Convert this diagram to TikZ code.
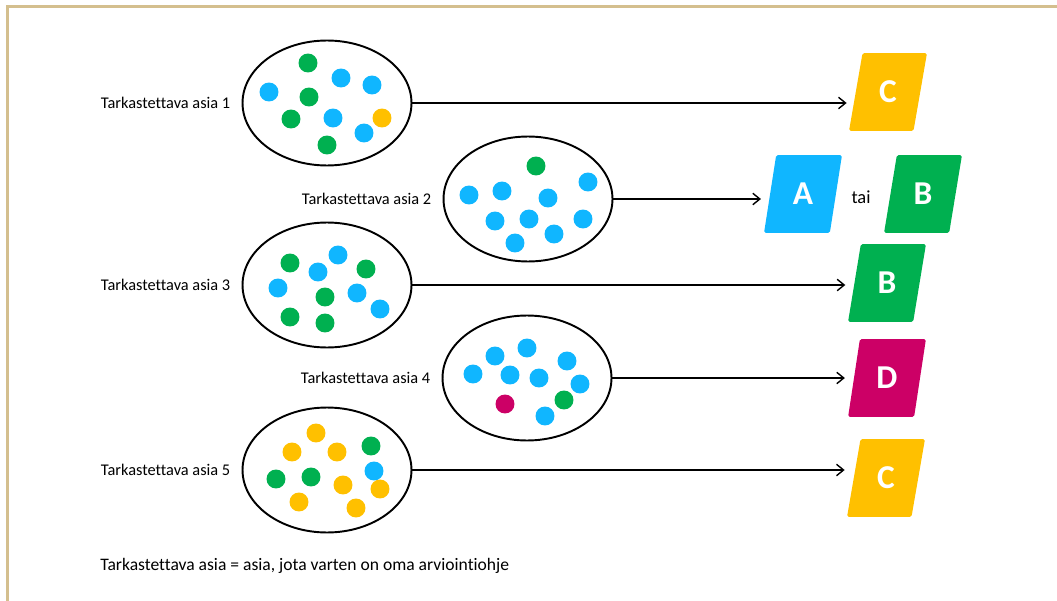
\documentclass[tikz,border=0pt]{standalone}
\usepackage{fontspec}
\setmainfont{Carlito}[Ligatures=NoCommon]
\usetikzlibrary{arrows.meta,shapes.geometric,positioning}

\definecolor{rimtan}{RGB}{212,191,142}
\definecolor{dotblue}{RGB}{16,182,255}
\definecolor{dotgreen}{RGB}{0,176,80}
\definecolor{dotyellow}{RGB}{255,192,0}
\definecolor{dotmagenta}{RGB}{204,0,102}

\begin{document}
\begin{tikzpicture}[x=0.02cm,y=-0.02cm,node distance=0.22cm,>={Straight Barb[length=4pt,width=6.5pt]}]

	\tikzstyle{rim}=[draw=rimtan,line width=1.7pt]
	\tikzstyle{pool}=[ellipse,draw=black,line width=1.1pt,minimum width=3.38cm,minimum height=2.5cm,inner sep=0pt]
	\tikzstyle{grade}=[trapezium,trapezium left angle=78,trapezium right angle=102,trapezium stretches=true,minimum width=1.56cm,minimum height=1.56cm,inner sep=0pt,rounded corners=1pt,text=white,font=\fontsize{19}{22}\selectfont\bfseries]
	\tikzstyle{lbl}=[inner sep=0pt,font=\fontsize{9.3}{11}\selectfont]
	\tikzstyle{link}=[->,line width=0.8pt,shorten >=5pt]

	\useasboundingbox (0,0) rectangle (1057,601);
	\draw[rim] (7.5,601) -- (7.5,6.5) -- (1057,6.5);

	% the five things under review
	\node [pool] (e1) at (327,103) {};
	\node [pool] (e2) at (528,199) {};
	\node [pool] (e3) at (327,285) {};
	\node [pool] (e4) at (527,378) {};
	\node [pool] (e5) at (327,470) {};

	\node [lbl,left=of e1] (l1) {Tarkastettava asia 1};
	\node [lbl,left=of e2] (l2) {Tarkastettava asia 2};
	\node [lbl,left=of e3] (l3) {Tarkastettava asia 3};
	\node [lbl,left=of e4] (l4) {Tarkastettava asia 4};
	\node [lbl,left=of e5] (l5) {Tarkastettava asia 5};

	% dots
	\foreach \x/\y in {308/63,309/97,291/119,327/145} \fill[dotgreen] (\x,\y) circle[radius=5.4pt];
	\foreach \x/\y in {341/78,372/85,269/92,333/118,364/133} \fill[dotblue] (\x,\y) circle[radius=5.4pt];
	\fill[dotyellow] (382,118) circle[radius=5.4pt];

	\fill[dotgreen] (536,166) circle[radius=5.4pt];
	\foreach \x/\y in {588/182,469/195,502/191,548/198,495/221,529/219,583/219,554/234,515/243} \fill[dotblue] (\x,\y) circle[radius=5.4pt];

	\foreach \x/\y in {290/263,366/269,325/297,290/317,325/323} \fill[dotgreen] (\x,\y) circle[radius=5.4pt];
	\foreach \x/\y in {338/255,318/272,278/288,357/293,380/309} \fill[dotblue] (\x,\y) circle[radius=5.4pt];

	\foreach \x/\y in {527/348,495/356,567/361,473/374,510/375,539/378,580/384,545/416} \fill[dotblue] (\x,\y) circle[radius=5.4pt];
	\fill[dotmagenta] (505,404) circle[radius=5.4pt];
	\fill[dotgreen] (564,400) circle[radius=5.4pt];

	\foreach \x/\y in {316/433,292/452,337/452,343/485,380/489,299/502,356/508} \fill[dotyellow] (\x,\y) circle[radius=5.4pt];
	\foreach \x/\y in {371/446,276/479,311/477} \fill[dotgreen] (\x,\y) circle[radius=5.4pt];
	\fill[dotblue] (374,471) circle[radius=5.4pt];

	% grades
	\node [grade,fill=dotyellow] (g1) at (888,92) {C};
	\node [grade,fill=dotblue] (g2a) at (803,194) {A};
	\node [lbl,font=\fontsize{10.5}{12}\selectfont] (tai) at (861,197) {tai};
	\node [grade,fill=dotgreen] (g2b) at (923,194) {B};
	\node [grade,fill=dotgreen] (g3) at (887,283) {B};
	\node [grade,fill=dotmagenta] (g4) at (887,378) {D};
	\node [grade,fill=dotyellow] (g5) at (886,478) {C};

	\draw [link] (e1.east) -- (e1.east -| g1.west);
	\draw [link] (e2.east) -- (e2.east -| g2a.west);
	\draw [link] (e3.east) -- (e3.east -| g3.west);
	\draw [link] (e4.east) -- (e4.east -| g4.west);
	\draw [link] (e5.east) -- (e5.east -| g5.west);

	\node [lbl,anchor=west,font=\fontsize{10}{12}\selectfont] (note) at (100,566) {Tarkastettava asia = asia, jota varten on oma arviointiohje};
\end{tikzpicture}
\end{document}
